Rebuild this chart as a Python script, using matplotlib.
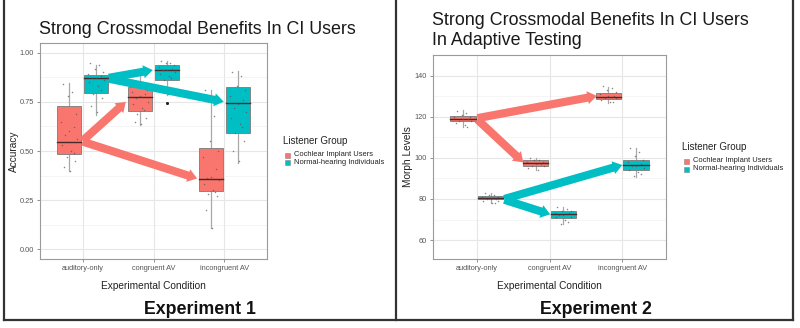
import matplotlib
matplotlib.use("Agg")
import matplotlib.pyplot as plt
from matplotlib.lines import Line2D
from matplotlib.patches import Rectangle

plt.rcParams['font.family'] = ['Liberation Sans', 'DejaVu Sans']

conditions = ["auditory-only", "congruent AV", "incongruent AV"]
groups = ["Cochlear Implant Users", "Normal-hearing Individuals"]
colors = {"Cochlear Implant Users": "#F8766D", "Normal-hearing Individuals": "#00BFC4"}

# Experiment 1 box stats per group: [auditory, congruent, incongruent]
e1_ci_whislo = [0.40, 0.633, 0.11]
e1_ci_q1 = [0.483, 0.706, 0.296]
e1_ci_med = [0.547, 0.774, 0.357]
e1_ci_q3 = [0.73, 0.828, 0.514]
e1_ci_whishi = [0.845, 0.88, 0.811]
e1_nh_whislo = [0.684, 0.786, 0.44]
e1_nh_q1 = [0.794, 0.862, 0.59]
e1_nh_med = [0.874, 0.91, 0.743]
e1_nh_q3 = [0.888, 0.939, 0.828]
e1_nh_whishi = [0.94, 0.96, 0.905]
e1_nh_outliers = [[], [0.746, 0.746], []]

# Experiment 1 individual points
e1_ci_points = [
    [0.84, 0.80, 0.78, 0.69, 0.65, 0.62, 0.60, 0.58, 0.56, 0.53, 0.50, 0.49, 0.47, 0.45, 0.42, 0.40],
    [0.88, 0.85, 0.83, 0.81, 0.80, 0.79, 0.78, 0.77, 0.75, 0.74, 0.72, 0.71, 0.69, 0.67, 0.65, 0.64],
    [0.81, 0.68, 0.55, 0.50, 0.47, 0.41, 0.37, 0.36, 0.35, 0.33, 0.30, 0.29, 0.28, 0.27, 0.20, 0.11],
]
e1_nh_points = [
    [0.95, 0.94, 0.92, 0.90, 0.89, 0.88, 0.87, 0.87, 0.86, 0.85, 0.83, 0.81, 0.79, 0.77, 0.73, 0.70],
    [0.96, 0.95, 0.95, 0.94, 0.93, 0.92, 0.91, 0.91, 0.90, 0.89, 0.88, 0.87, 0.86, 0.82, 0.80, 0.79],
    [0.90, 0.88, 0.83, 0.81, 0.78, 0.76, 0.74, 0.72, 0.70, 0.67, 0.64, 0.62, 0.59, 0.55, 0.50, 0.45],
]

# Experiment 2 box stats
e2_ci_whislo = [115.2, 94.0, 126.8]
e2_ci_q1 = [118.0, 96.0, 128.5]
e2_ci_med = [119.0, 97.5, 129.8]
e2_ci_q3 = [120.4, 99.0, 131.4]
e2_ci_whishi = [123.3, 99.8, 134.6]
e2_nh_whislo = [77.9, 67.8, 90.8]
e2_nh_q1 = [79.8, 70.9, 94.1]
e2_nh_med = [80.7, 72.7, 96.5]
e2_nh_q3 = [81.6, 74.1, 99.0]
e2_nh_whishi = [83.0, 76.2, 104.6]

e2_ci_points = [
    [123, 122, 121, 120, 120, 119, 119, 118, 118, 117, 116, 115],
    [100, 99, 99, 98, 98, 97, 97, 96, 96, 95, 94],
    [135, 134, 133, 132, 131, 130, 130, 129, 129, 128, 127, 127],
]
e2_nh_points = [
    [83, 82, 82, 81, 81, 80, 80, 80, 79, 79, 78, 78],
    [76, 75, 74, 74, 73, 73, 72, 72, 71, 71, 70, 69, 68],
    [105, 103, 101, 99, 98, 97, 96, 96, 95, 94, 93, 92, 91],
]

# Arrows (start -> end in data units), one list per experiment
e1_arrows = [
    ((1.00, 0.552), (1.61, 0.750), "Cochlear Implant Users"),
    ((1.00, 0.548), (2.615, 0.360), "Cochlear Implant Users"),
    ((1.37, 0.873), (1.99, 0.912), "Normal-hearing Individuals"),
    ((1.37, 0.868), (2.99, 0.751), "Normal-hearing Individuals"),
]
e2_arrows = [
    ((1.01, 119.3), (2.65, 130.1), "Cochlear Implant Users"),
    ((1.01, 118.6), (1.64, 97.8), "Cochlear Implant Users"),
    ((1.38, 80.0), (3.00, 96.5), "Normal-hearing Individuals"),
    ((1.38, 79.6), (2.01, 72.5), "Normal-hearing Individuals"),
]

jit = [-0.09, 0.05, -0.02, 0.11, -0.13, 0.08, 0.0, -0.06, 0.12, -0.11, 0.03, 0.07, -0.04, 0.1, -0.08, 0.02]

W, H = 800, 328
fig = plt.figure(figsize=(W / 100, H / 100), dpi=100)


def px_axes(l, t, r, b):
    return fig.add_axes([l / W, 1 - b / H, (r - l) / W, (b - t) / H])


def draw_panel(ax, stats, points, outliers, arrows, ylim, yticks, yminor, ylabel, ylabelpad):
    ax.set_xlim(0.4, 3.6)
    ax.set_ylim(*ylim)
    for y in yminor:
        ax.axhline(y, color="#F2F2F2", lw=0.5, zorder=0)
    for y in yticks:
        ax.axhline(y, color="#E6E6E6", lw=0.8, zorder=0)
    for x in (1, 2, 3):
        ax.axvline(x, color="#E6E6E6", lw=0.8, zorder=0)
    offs = {"Cochlear Implant Users": -0.19, "Normal-hearing Individuals": 0.19}
    width = 0.35
    for g in groups:
        wl, q1, md, q3, wh = stats[g]
        for i in range(3):
            xc = i + 1 + offs[g]
            ax.plot([xc, xc], [wl[i], q1[i]], color="#A8A8A8", lw=0.9, zorder=2)
            ax.plot([xc, xc], [q3[i], wh[i]], color="#A8A8A8", lw=0.9, zorder=2)
            ax.add_patch(Rectangle((xc - width / 2, q1[i]), width, q3[i] - q1[i],
                                   facecolor=colors[g], edgecolor="#7A7A7A", lw=0.6, zorder=3))
            ax.plot([xc - width / 2, xc + width / 2], [md[i], md[i]], color="#4A2A2A", lw=1.0, zorder=4)
            pts = points[g][i]
            xs = [xc + jit[k % len(jit)] * 0.9 for k in range(len(pts))]
            ax.scatter(xs, pts, s=1.2, color="#555555", alpha=0.7, lw=0, zorder=5)
            if outliers.get(g):
                for v in outliers[g][i]:
                    ax.scatter([xc], [v], s=4, color="#222222", lw=0, zorder=5)
    for (x0, y0), (x1, y1), g in arrows:
        ax.annotate("", xy=(x1, y1), xytext=(x0, y0),
                    arrowprops=dict(arrowstyle="simple,head_width=1.05,head_length=0.75,tail_width=0.65",
                                    color=colors[g], lw=0, shrinkA=0, shrinkB=0,
                                    mutation_scale=9), zorder=6)
    ax.set_xticks([1, 2, 3])
    ax.set_xticklabels(conditions)
    ax.set_yticks(yticks)
    ax.tick_params(axis="both", labelsize=5.3, colors="#7F7F7F", labelcolor="#555555",
                   length=2.5, width=0.6, pad=2)
    for s in ax.spines.values():
        s.set_color("#9A9A9A")
        s.set_linewidth(0.8)
    ax.set_xlabel("Experimental Condition", fontsize=7.3, color="#222222", labelpad=6)
    ax.set_ylabel(ylabel, fontsize=7.3, color="#222222", labelpad=ylabelpad)


def draw_legend(x, y_title, y1, y2):
    fig.text(x / W, 1 - y_title / H, "Listener Group", fontsize=7.0, color="#222222", va="center")
    for yy, g in ((y1, groups[0]), (y2, groups[1])):
        fig.add_artist(Rectangle(((x + 2) / W, 1 - (yy + 2.5) / H), 5 / W, 5 / H,
                                 facecolor=colors[g], edgecolor="#888888", lw=0.4,
                                 transform=fig.transFigure))
        fig.text((x + 11) / W, 1 - yy / H, g, fontsize=5.4, color="#222222", va="center")


# Experiment 1
ax1 = px_axes(40, 43, 267, 259)
draw_panel(ax1,
           {groups[0]: (e1_ci_whislo, e1_ci_q1, e1_ci_med, e1_ci_q3, e1_ci_whishi),
            groups[1]: (e1_nh_whislo, e1_nh_q1, e1_nh_med, e1_nh_q3, e1_nh_whishi)},
           {groups[0]: e1_ci_points, groups[1]: e1_nh_points},
           {groups[1]: e1_nh_outliers},
           e1_arrows, (-0.05, 1.05), [0.0, 0.25, 0.5, 0.75, 1.0],
           [0.125, 0.375, 0.625, 0.875], "Accuracy", 0.5)
ax1.set_yticklabels(["0.00", "0.25", "0.50", "0.75", "1.00"])

# Experiment 2
ax2 = px_axes(433, 55, 666, 259)
draw_panel(ax2,
           {groups[0]: (e2_ci_whislo, e2_ci_q1, e2_ci_med, e2_ci_q3, e2_ci_whishi),
            groups[1]: (e2_nh_whislo, e2_nh_q1, e2_nh_med, e2_nh_q3, e2_nh_whishi)},
           {groups[0]: e2_ci_points, groups[1]: e2_nh_points},
           {},
           e2_arrows, (50.8, 150.0), [60, 80, 100, 120, 140],
           [70, 90, 110, 130], "Morph Levels", 1.0)

# Titles
fig.text(39 / W, 1 - 33.5 / H, "Strong Crossmodal Benefits In CI Users", fontsize=12.9,
         color="#1A1A1A", va="baseline")
fig.text(432 / W, 1 - 25 / H, "Strong Crossmodal Benefits In CI Users", fontsize=12.9,
         color="#1A1A1A", va="baseline")
fig.text(432 / W, 1 - 45 / H, "In Adaptive Testing", fontsize=12.9,
         color="#1A1A1A", va="baseline")

draw_legend(283, 141, 155, 163)
draw_legend(682, 147, 161, 169)

fig.text(200 / W, 1 - 309 / H, "Experiment 1", fontsize=12.8, fontweight="bold",
         ha="center", va="center", color="#111111")
fig.text(596 / W, 1 - 309 / H, "Experiment 2", fontsize=12.8, fontweight="bold",
         ha="center", va="center", color="#111111")

# Frame
for xs, ys in (([4, 4], [0, 320]), ([396, 396], [0, 320]), ([793, 793], [0, 320]),
               ([4, 793], [320, 320])):
    fig.add_artist(Line2D([x / W for x in xs], [1 - y / H for y in ys], color="#333333",
                          lw=1.6, transform=fig.transFigure))

fig.savefig("out.png", dpi=100, facecolor="white")
